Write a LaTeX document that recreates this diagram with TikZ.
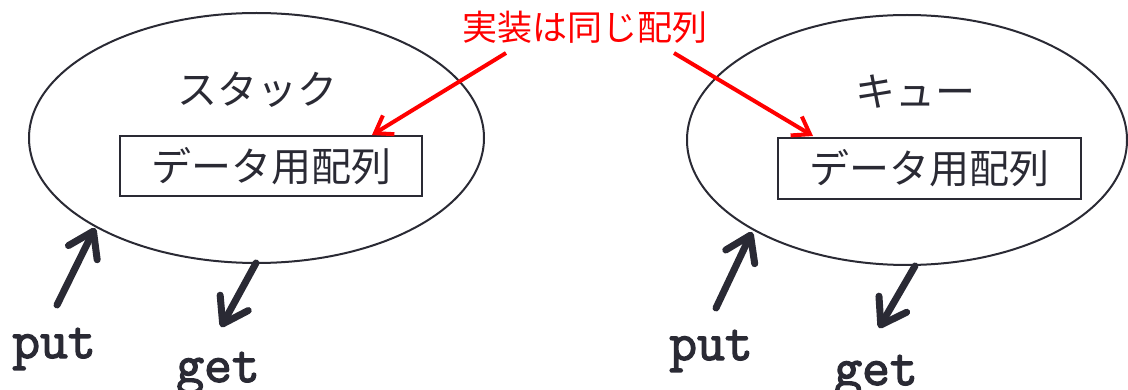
\documentclass[tikz,border=0pt]{standalone}
\usepackage{fontspec}
\newfontfamily\jp{Noto Sans CJK JP}
\newfontfamily\mono[FakeBold=2.5]{Latin Modern Mono}
\usetikzlibrary{shapes.geometric,arrows.meta}
\definecolor{ink}{RGB}{42,42,52}
\begin{document}
\begin{tikzpicture}[x=1pt,y=-1pt,
  ell/.style={draw=ink, line width=2pt, ellipse, inner sep=0pt},
  box/.style={draw=ink, line width=2pt, rectangle, inner sep=0pt, text=ink,
    font=\jp\fontsize{40}{42}\selectfont},
  title/.style={font=\jp\fontsize{40}{42}\selectfont, text=ink, inner sep=0pt},
  note/.style={font=\jp\fontsize{35}{37}\selectfont, text=red, inner sep=0pt},
  op/.style={font=\mono\fontsize{54}{56}\selectfont, text=ink, inner sep=0pt, anchor=base},
  darr/.style={draw=ink, line width=7pt, line cap=round,
    -{Straight Barb[length=24pt,width=32pt,line width=7pt,round]}},
  rarr/.style={draw=red, line width=4pt,
    -{Straight Barb[length=16pt,width=22pt,line width=4pt]}}
]
\useasboundingbox (0,0) rectangle (1128,390);
% stack
\node[ell, minimum width=455pt, minimum height=250pt] (s) at (256.5,138) {};
\node[title] (st) at (257,90) {スタック};
\node[box, minimum width=302pt, minimum height=60pt] (sa) at (271,166) {データ用配列};
% queue
\node[ell, minimum width=440pt, minimum height=250pt] (q) at (907,140) {};
\node[title] (qt) at (915,92) {キュー};
\node[box, minimum width=303pt, minimum height=61pt] (qa) at (929.5,168.5) {データ用配列};
% note
\node[note] (n) at (585,27) {実装は同じ配列};
\coordinate (n1) at (506,53);
\coordinate (n2) at (674,53);
\coordinate (sat) at (372,135);
\coordinate (qat) at (813,136);
\draw[rarr] (n1) -- (sat);
\draw[rarr] (n2) -- (qat);
% put/get labels
\node[op] (sp) at (54,358) {put};
\node[op] (sg) at (218,382) {get};
\node[op] (qp) at (711,360) {put};
\node[op] (qg) at (876,385) {get};
% arrows
\coordinate (spa) at (57,305);
\coordinate (spb) at (95,228);
\coordinate (sga) at (256,263);
\coordinate (sgb) at (221,327);
\coordinate (qpa) at (716,308);
\coordinate (qpb) at (752,232);
\coordinate (qga) at (915,266);
\coordinate (qgb) at (879,328);
\draw[darr] (spa) -- (spb);
\draw[darr] (sga) -- (sgb);
\draw[darr] (qpa) -- (qpb);
\draw[darr] (qga) -- (qgb);
\end{tikzpicture}
\end{document}
